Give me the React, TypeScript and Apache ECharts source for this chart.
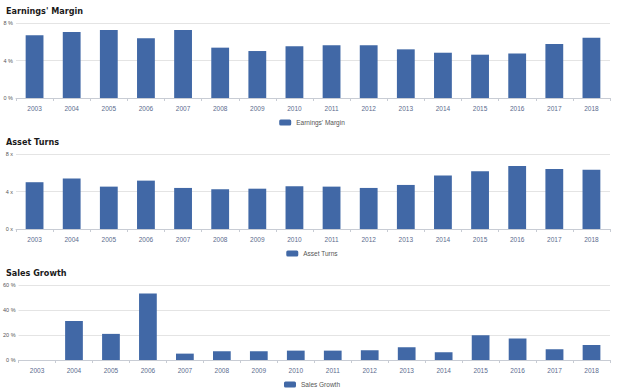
import React, { useEffect, useRef } from "react";
import * as echarts from "echarts";

const years = ["2003","2004","2005","2006","2007","2008","2009","2010","2011","2012","2013","2014","2015","2016","2017","2018"];
const earningsMargin = [6.69, 7.04, 7.25, 6.37, 7.25, 5.37, 5.01, 5.51, 5.62, 5.62, 5.19, 4.83, 4.62, 4.76, 5.76, 6.43];
const assetTurns = [4.99, 5.38, 4.52, 5.16, 4.38, 4.24, 4.30, 4.56, 4.52, 4.38, 4.70, 5.70, 6.17, 6.71, 6.39, 6.31];
const salesGrowth = [0, 31.3, 20.9, 53.3, 5.1, 7.0, 7.0, 7.5, 7.5, 7.8, 10.2, 6.2, 19.8, 17.2, 8.6, 12.0];

const titles = ["Earnings' Margin", "Asset Turns", "Sales Growth"];
const yMax = [8, 8, 60];
const yInterval = [4, 4, 20];
const ySuffix = ["%", "x", "%"];

const BAR = "#4168a6";

export default function App() {
  const ref = useRef<HTMLDivElement>(null);
  useEffect(() => {
    document.body.style.margin = "0";
    document.body.style.overflow = "hidden";
    const chart = echarts.init(ref.current!, null, { renderer: "svg" });
    const datasets = [earningsMargin, assetTurns, salesGrowth];
    const gridTops = [23, 154, 285];
    const gridH = 75;
    const titleTops = [1, 132, 263];
    const legendTops = [114, 245, 376];
    chart.setOption({
      animation: false,
      title: titles.map((t, i) => ({
        text: t,
        left: 1,
        top: titleTops[i],
        textStyle: { fontSize: 9, fontWeight: "bold", color: "#1a1a1a", fontFamily: "DejaVu Sans Condensed, sans-serif" },
      })),
      legend: titles.map((t, i) => ({
        data: [t],
        top: legendTops[i],
        left: "center",
        itemWidth: 12,
        itemHeight: 6,
        itemGap: 4,
        textStyle: { fontSize: 6.5, color: "#555", fontFamily: "Liberation Sans" },
        selectedMode: false,
      })),
      grid: gridTops.map((t) => ({ left: 16, right: 14, top: t, height: gridH })),
      xAxis: titles.map((_, i) => ({
        type: "category",
        gridIndex: i,
        data: years,
        axisLine: { lineStyle: { color: "#c8ccd4" } },
        axisTick: { show: true, length: 3, lineStyle: { color: "#c8ccd4" } },
        axisLabel: { fontSize: 6.5, color: "#5b6b8e", margin: 7, fontFamily: "Liberation Sans" },
      })),
      yAxis: titles.map((_, i) => ({
        type: "value",
        gridIndex: i,
        min: 0,
        max: yMax[i],
        interval: yInterval[i],
        axisLabel: {
          fontSize: 5.5,
          color: "#555",
          margin: 3,
          fontFamily: "Liberation Sans",
          formatter: (v: number) => v + " " + ySuffix[i],
        },
        splitLine: { lineStyle: { color: "#e4e4e4" } },
        axisLine: { show: false },
        axisTick: { show: false },
      })),
      series: titles.map((t, i) => ({
        name: t,
        type: "bar",
        xAxisIndex: i,
        yAxisIndex: i,
        data: datasets[i],
        barWidth: "48%",
        itemStyle: { color: BAR },
      })),
    });
    return () => chart.dispose();
  }, []);
  return <div ref={ref} style={{ width: 624, height: 388 }} />;
}
